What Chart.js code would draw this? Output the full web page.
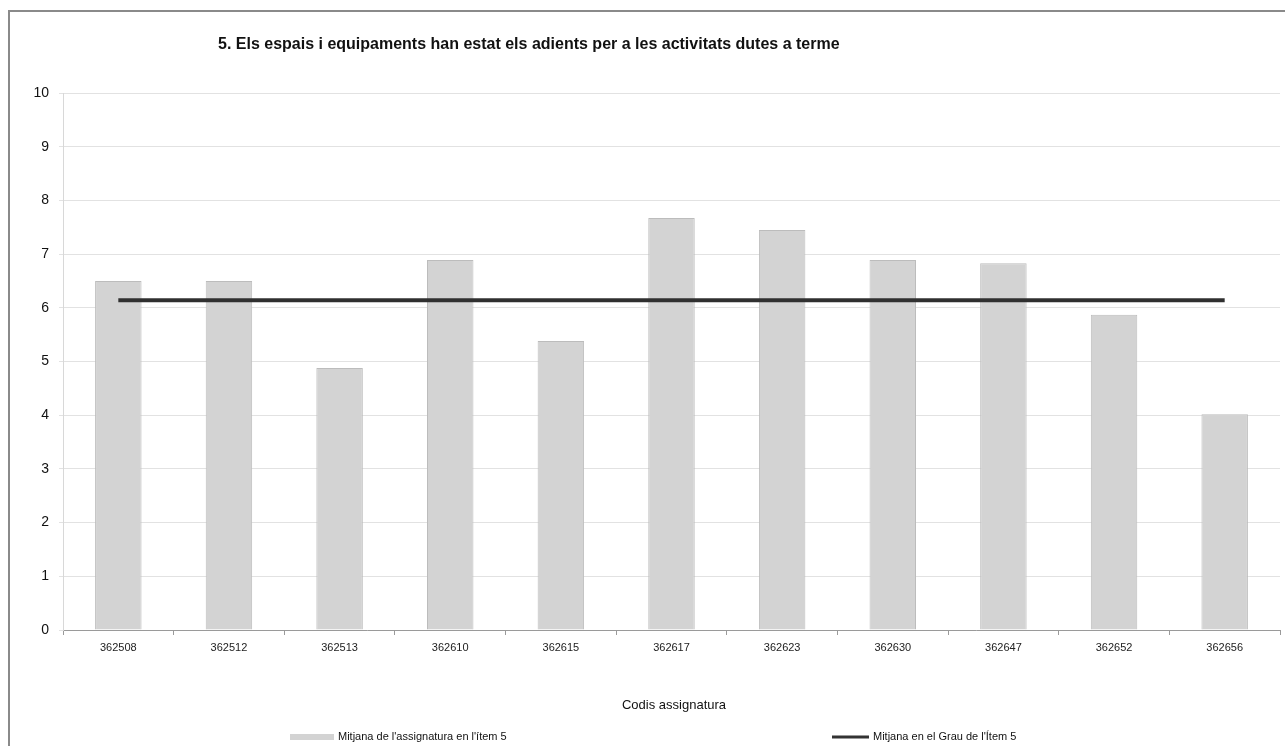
<!DOCTYPE html>
<html>
<head>
<meta charset="utf-8">
<script src="https://cdn.jsdelivr.net/npm/chart.js@4.4.1/dist/chart.umd.min.js"></script>
<style>
  html, body { margin: 0; padding: 0; background: #ffffff; }
  #frame { position: absolute; left: 8px; top: 10px; width: 1290px; height: 760px; border: 2px solid #8a8a8a; box-sizing: border-box; }
  #wrap { position: absolute; left: 0; top: 0; width: 1285px; height: 746px; }
</style>
</head>
<body>
<div id="frame"></div>
<div id="wrap"><canvas id="c" width="1285" height="746"></canvas></div>
<script>
const chartTitle = "5. Els espais i equipaments han estat els adients per a les activitats dutes a terme";
const xAxisTitle = "Codis assignatura";
const categories = ["362508", "362512", "362513", "362610", "362615", "362617", "362623", "362630", "362647", "362652", "362656"];
const subjectMeans = [6.5, 6.5, 4.88, 6.89, 5.38, 7.67, 7.45, 6.89, 6.83, 5.87, 4.02];
const gradeMeans = [6.14, 6.14, 6.14, 6.14, 6.14, 6.14, 6.14, 6.14, 6.14, 6.14, 6.14];
const seriesNames = ["Mitjana de l'assignatura en l'ítem 5", "Mitjana en el Grau de l'Ítem 5"];
const yTicks = [0, 1, 2, 3, 4, 5, 6, 7, 8, 9, 10];

const FONT = "'Liberation Sans', Arial, sans-serif";

const textPlugin = {
  id: 'textPlugin',
  afterDraw(chart) {
    const ctx = chart.ctx;
    ctx.save();
    ctx.fillStyle = '#111';
    ctx.textBaseline = 'middle';
    // title
    ctx.font = "bold 16px " + FONT;
    ctx.textAlign = 'left';
    ctx.fillText(chartTitle, 218, 45);
    // x axis title
    ctx.font = "13px " + FONT;
    ctx.textAlign = 'center';
    ctx.fillText(xAxisTitle, 674, 705);
    // legend
    ctx.font = "11px " + FONT;
    ctx.textAlign = 'left';
    ctx.fillStyle = '#d3d3d3';
    ctx.fillRect(290, 734, 44, 6);
    ctx.fillStyle = '#111';
    ctx.fillText(seriesNames[0], 338, 737);
    ctx.strokeStyle = '#333';
    ctx.lineWidth = 3;
    ctx.beginPath();
    ctx.moveTo(832, 737);
    ctx.lineTo(869, 737);
    ctx.stroke();
    ctx.fillText(seriesNames[1], 873, 737);
    ctx.restore();
  }
};

new Chart(document.getElementById('c'), {
  data: {
    labels: categories,
    datasets: [
      {
        type: 'line',
        label: seriesNames[1],
        data: gradeMeans,
        borderColor: '#303030',
        borderWidth: 4,
        pointRadius: 0,
        fill: false,
        order: 0
      },
      {
        type: 'bar',
        label: seriesNames[0],
        data: subjectMeans,
        backgroundColor: '#d3d3d3',
        borderColor: '#bcbcbc',
        borderWidth: 1,
        categoryPercentage: 1.0,
        barPercentage: 0.42,
        order: 1
      }
    ]
  },
  options: {
    responsive: false,
    animation: false,
    layout: { padding: { left: 13, right: 5, top: 93, bottom: 0 } },
    plugins: {
      legend: { display: false },
      title: { display: false },
      tooltip: { enabled: false }
    },
    scales: {
      x: {
        type: 'category',
        offset: true,
        grid: { display: true, drawOnChartArea: false, drawTicks: true, tickLength: 5, color: '#9a9a9a', offset: true },
        border: { display: true, color: '#9a9a9a', width: 1 },
        ticks: { color: '#222', font: { family: FONT, size: 11 }, padding: 6, maxRotation: 0, autoSkip: false },
        afterFit(scale) { scale.height = 116; }
      },
      y: {
        min: 0,
        max: 10,
        afterBuildTicks(scale) { scale.ticks = yTicks.map(v => ({ value: v })); },
        grid: { color: '#e2e2e2', lineWidth: 1, drawTicks: true, tickLength: 4 },
        border: { display: true, color: '#d8d8d8' },
        ticks: { color: '#111', font: { family: FONT, size: 14 }, padding: 10 },
        afterFit(scale) { scale.width = 50; }
      }
    }
  },
  plugins: [textPlugin]
});
</script>
</body>
</html>
